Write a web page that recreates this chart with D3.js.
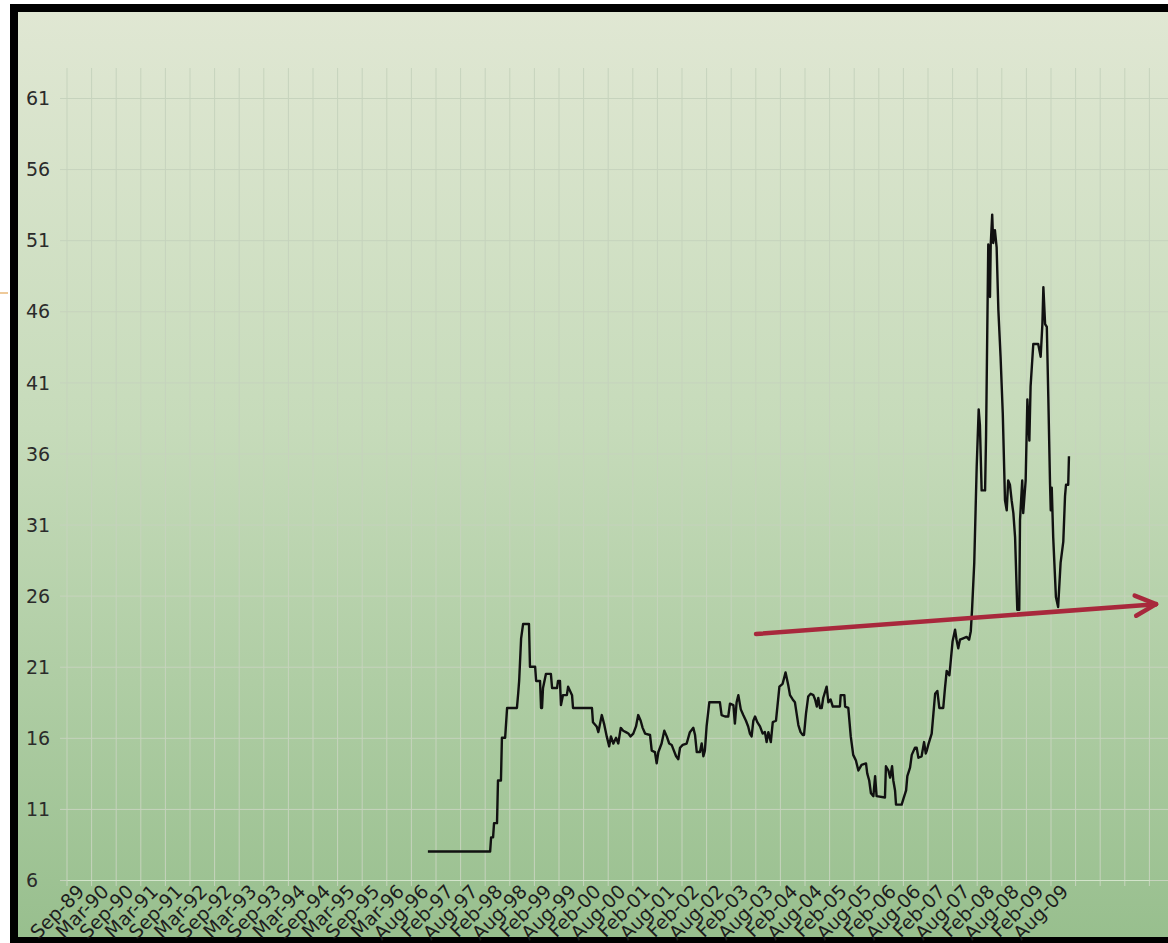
<!DOCTYPE html>
<html>
<head>
<meta charset="utf-8">
<script src="https://cdn.jsdelivr.net/npm/d3@7"></script>
<style>
html, body { margin: 0; padding: 0; background: #fff; }
svg { display: block; }
</style>
</head>
<body>
<svg id="chart" width="1168" height="943"></svg>
<script>
// category labels along the bottom (one every ~6 months)
var xLabels = ['Sep-89', 'Mar-90', 'Sep-90', 'Mar-91', 'Sep-91', 'Mar-92', 'Sep-92', 'Mar-93', 'Sep-93',
    'Mar-94', 'Sep-94', 'Mar-95', 'Sep-95', 'Mar-96', 'Aug-96', 'Feb-97', 'Aug-97', 'Feb-98', 'Aug-98',
    'Feb-99', 'Aug-99', 'Feb-00', 'Aug-00', 'Feb-01', 'Aug-01', 'Feb-02', 'Aug-02', 'Feb-03', 'Aug-03',
    'Feb-04', 'Aug-04', 'Feb-05', 'Aug-05', 'Feb-06', 'Aug-06', 'Feb-07', 'Aug-07', 'Feb-08', 'Aug-08',
    'Feb-09', 'Aug-09'];

var yTicks = [6, 11, 16, 21, 26, 31, 36, 41, 46, 51, 56, 61];

// number of category slots on the axis (labels only on the first 41)
var categoryCount = 44;

// [position in label units, value]
var price = [
    [14.17, 8.0], [16.70, 8.0], [16.74, 9.0], [16.82, 9.0], [16.86, 10.0], [16.98, 10.0], [17.02, 13.0],
    [17.14, 13.0], [17.18, 16.0], [17.31, 16.0], [17.39, 18.1], [17.79, 18.1], [17.84, 19.1], [17.88, 20.0],
    [17.96, 23.0], [18.04, 24.0], [18.28, 24.0], [18.32, 21.0], [18.53, 21.0], [18.57, 20.0], [18.73, 20.0],
    [18.77, 18.1], [18.81, 18.1], [18.85, 19.5], [18.97, 20.5], [19.17, 20.5], [19.22, 19.5], [19.42, 19.5],
    [19.46, 20.0], [19.54, 20.0], [19.58, 18.3], [19.66, 19.0], [19.82, 19.0], [19.87, 19.6], [20.03, 19.0],
    [20.07, 18.1], [20.84, 18.1],
    [20.88, 17.1], [21.03, 16.8], [21.10, 16.4], [21.24, 17.6], [21.33, 17.0], [21.44, 16.1], [21.54, 15.4],
    [21.61, 16.1], [21.71, 15.6], [21.82, 16.0], [21.91, 15.6], [22.01, 16.7], [22.11, 16.5], [22.22, 16.4],
    [22.32, 16.3], [22.41, 16.1], [22.52, 16.3], [22.63, 16.8], [22.72, 17.6], [22.82, 17.2], [22.90, 16.7],
    [23.00, 16.3], [23.20, 16.2], [23.27, 15.1], [23.40, 15.0], [23.47, 14.2], [23.54, 15.0], [23.67, 15.6],
    [23.78, 16.5], [23.88, 16.1], [23.98, 15.6], [24.08, 15.5], [24.17, 15.1], [24.26, 14.7], [24.35, 14.5],
    [24.42, 15.3], [24.53, 15.5], [24.69, 15.6], [24.82, 16.4], [24.96, 16.7], [25.03, 16.2], [25.10, 15.0],
    [25.23, 15.0], [25.30, 15.6], [25.37, 14.7], [25.43, 15.1], [25.50, 16.8], [25.61, 18.5], [26.04, 18.5],
    [26.11, 17.6], [26.25, 17.5], [26.38, 17.5], [26.45, 18.4], [26.59, 18.3], [26.65, 17.0], [26.72, 18.5],
    [26.79, 19.0], [26.89, 18.0], [26.99, 17.6], [27.10, 17.2], [27.19, 16.8], [27.26, 16.3], [27.33, 16.1],
    [27.40, 17.2], [27.47, 17.5], [27.56, 17.1], [27.67, 16.8], [27.78, 16.3], [27.87, 16.4], [27.94, 15.7],
    [28.01, 16.4], [28.11, 15.7], [28.19, 17.1], [28.32, 17.2], [28.46, 19.6], [28.59, 19.8], [28.71, 20.6],
    [28.82, 19.7], [28.89, 19.0], [29.00, 18.7], [29.09, 18.5], [29.16, 17.7], [29.23, 16.9], [29.32, 16.4],
    [29.41, 16.2], [29.46, 16.2], [29.54, 17.7], [29.63, 18.9], [29.73, 19.1], [29.84, 19.0], [29.91, 18.7],
    [29.98, 18.2], [30.04, 18.8], [30.11, 18.1], [30.18, 18.1], [30.24, 18.8], [30.38, 19.6], [30.45, 18.5],
    [30.54, 18.7], [30.63, 18.2], [30.92, 18.2], [30.95, 19.0], [31.10, 19.0], [31.13, 18.2], [31.26, 18.1],
    [31.36, 16.1], [31.46, 14.8], [31.57, 14.4], [31.67, 13.7], [31.80, 14.1], [31.98, 14.2], [32.03, 13.5],
    [32.11, 13.0], [32.18, 12.1], [32.28, 11.9], [32.35, 13.3], [32.41, 11.9], [32.75, 11.8], [32.79, 14.0],
    [32.89, 13.7], [32.96, 13.2], [33.04, 14.0], [33.09, 13.0], [33.16, 12.3], [33.20, 11.3], [33.43, 11.3],
    [33.50, 11.7], [33.61, 12.3], [33.66, 13.3], [33.77, 13.9], [33.84, 14.8], [33.97, 15.3], [34.04, 15.3],
    [34.11, 14.6], [34.24, 14.7], [34.34, 15.7], [34.41, 14.9], [34.45, 15.1], [34.51, 15.5], [34.65, 16.3],
    [34.72, 17.7], [34.79, 19.1], [34.88, 19.3], [34.96, 18.1], [35.12, 18.1], [35.19, 19.5], [35.26, 20.7],
    [35.37, 20.4], [35.43, 21.5], [35.50, 22.8], [35.60, 23.6], [35.66, 22.9], [35.73, 22.3], [35.80, 22.9],
    [35.93, 23.0], [36.07, 23.1], [36.17, 22.9], [36.24, 23.5], [36.29, 25.0],
    [36.38, 28.3], [36.48, 35.1], [36.56, 39.1], [36.61, 38.0], [36.68, 33.4], [36.82, 33.4], [36.86, 37.2],
    [36.91, 44.7], [36.95, 50.7], [37.02, 47.0], [37.05, 50.7], [37.11, 52.8], [37.15, 50.8], [37.22, 51.7],
    [37.29, 50.5], [37.36, 46.1], [37.45, 42.8], [37.54, 38.8], [37.63, 32.7], [37.70, 32.0], [37.76, 34.1],
    [37.83, 33.8], [37.90, 32.7], [37.97, 31.8], [38.04, 30.1], [38.13, 25.0], [38.21, 25.0], [38.24, 31.3],
    [38.33, 34.1], [38.37, 31.8], [38.47, 34.1], [38.54, 39.8], [38.62, 36.9], [38.67, 40.7], [38.78, 43.7],
    [38.98, 43.7], [39.08, 42.8], [39.15, 45.1], [39.19, 47.7], [39.26, 45.1], [39.33, 44.9], [39.39, 40.0],
    [39.46, 33.9], [39.49, 32.0], [39.53, 33.6], [39.59, 30.1], [39.70, 25.9], [39.79, 25.2], [39.89, 28.3],
    [40.00, 29.8], [40.07, 33.0], [40.11, 33.8], [40.20, 33.8], [40.23, 35.8]
];

// red trend arrow, start and tip
var trendArrow = [[27.51, 23.3], [43.77, 25.4]];

var W = 1168, H = 943;
var gridColor = '#c6d3bd';

var svg = d3.select('#chart');

// background gradient
var grad = svg.append('defs').append('linearGradient')
    .attr('id', 'bg').attr('x1', 0).attr('y1', 0).attr('x2', 0).attr('y2', 1);
grad.append('stop').attr('offset', '0%').attr('stop-color', '#e0e7d3');
grad.append('stop').attr('offset', '45%').attr('stop-color', '#c6dbba');
grad.append('stop').attr('offset', '100%').attr('stop-color', '#98bf8e');

// black frame, then the panel
svg.append('rect').attr('x', 10).attr('y', 4).attr('width', W - 10).attr('height', H - 4).attr('fill', '#000');
svg.append('rect').attr('x', 18).attr('y', 12).attr('width', W - 18).attr('height', 925).attr('fill', 'url(#bg)');

// little stray mark on the left margin
svg.append('line').attr('x1', 0).attr('x2', 8).attr('y1', 293).attr('y2', 293)
    .attr('stroke', '#e8b878').attr('stroke-width', 1.5);

var x = d3.scaleLinear().domain([-0.5, categoryCount - 0.5]).range([67, 1149.4]);
var y = d3.scaleLinear().domain([6, 61]).range([880, 98]);

// vertical gridlines between categories
svg.append('g').selectAll('line')
    .data(d3.range(categoryCount + 1))
    .enter().append('line')
        .attr('x1', function (d) { return x(d - 0.5); })
        .attr('x2', function (d) { return x(d - 0.5); })
        .attr('y1', 68)
        .attr('y2', 886)
        .attr('stroke', gridColor)
        .attr('stroke-width', 1);

// y axis: horizontal gridlines + labels at the far left
var yAxis = svg.append('g')
    .attr('transform', 'translate(60,0)')
    .call(d3.axisRight(y).tickValues(yTicks).tickSize(W - 60).tickFormat(d3.format('d')));
yAxis.select('.domain').remove();
yAxis.selectAll('line').attr('stroke', gridColor).attr('stroke-width', 1);
yAxis.selectAll('text')
    .attr('x', -34)
    .attr('dy', '0.35em')
    .attr('text-anchor', 'start')
    .attr('fill', '#2b2b2b')
    .style('font-family', 'DejaVu Sans, sans-serif')
    .style('font-size', '19px');

// x axis labels, rotated
var xAxis = svg.append('g')
    .attr('transform', 'translate(0,880)')
    .call(d3.axisBottom(x).tickValues(d3.range(xLabels.length)).tickSize(0)
        .tickFormat(function (i) { return xLabels[i]; }));
xAxis.select('.domain').attr('stroke', '#d2e3ca');
xAxis.selectAll('text')
    .attr('x', 0)
    .attr('y', 0)
    .attr('dy', '0.35em')
    .attr('text-anchor', 'end')
    .attr('transform', 'translate(1,8) rotate(-45)')
    .attr('fill', '#1e1e1e')
    .style('font-family', 'DejaVu Sans, sans-serif')
    .style('font-size', '19px');

// the price line
var line = d3.line()
    .x(function (d) { return x(d[0]); })
    .y(function (d) { return y(d[1]); });

svg.append('path')
    .datum(price)
    .attr('d', line)
    .attr('fill', 'none')
    .attr('stroke', '#111')
    .attr('stroke-width', 2.4)
    .attr('stroke-linejoin', 'round');

// trend arrow
var arrowColor = '#a8283c';
var p0 = [x(trendArrow[0][0]), y(trendArrow[0][1])];
var p1 = [x(trendArrow[1][0]), y(trendArrow[1][1])];
svg.append('line')
    .attr('x1', p0[0]).attr('y1', p0[1]).attr('x2', p1[0]).attr('y2', p1[1])
    .attr('stroke', arrowColor).attr('stroke-width', 4.5).attr('stroke-linecap', 'round');

var ang = Math.atan2(p1[1] - p0[1], p1[0] - p0[0]);
var headLen = 23, headAng = 26 * Math.PI / 180;
[-1, 1].forEach(function (s) {
    var a = ang + Math.PI + s * headAng;
    svg.append('line')
        .attr('x1', p1[0]).attr('y1', p1[1])
        .attr('x2', p1[0] + headLen * Math.cos(a))
        .attr('y2', p1[1] + headLen * Math.sin(a))
        .attr('stroke', arrowColor).attr('stroke-width', 4.5).attr('stroke-linecap', 'round');
});
</script>
</body>
</html>
